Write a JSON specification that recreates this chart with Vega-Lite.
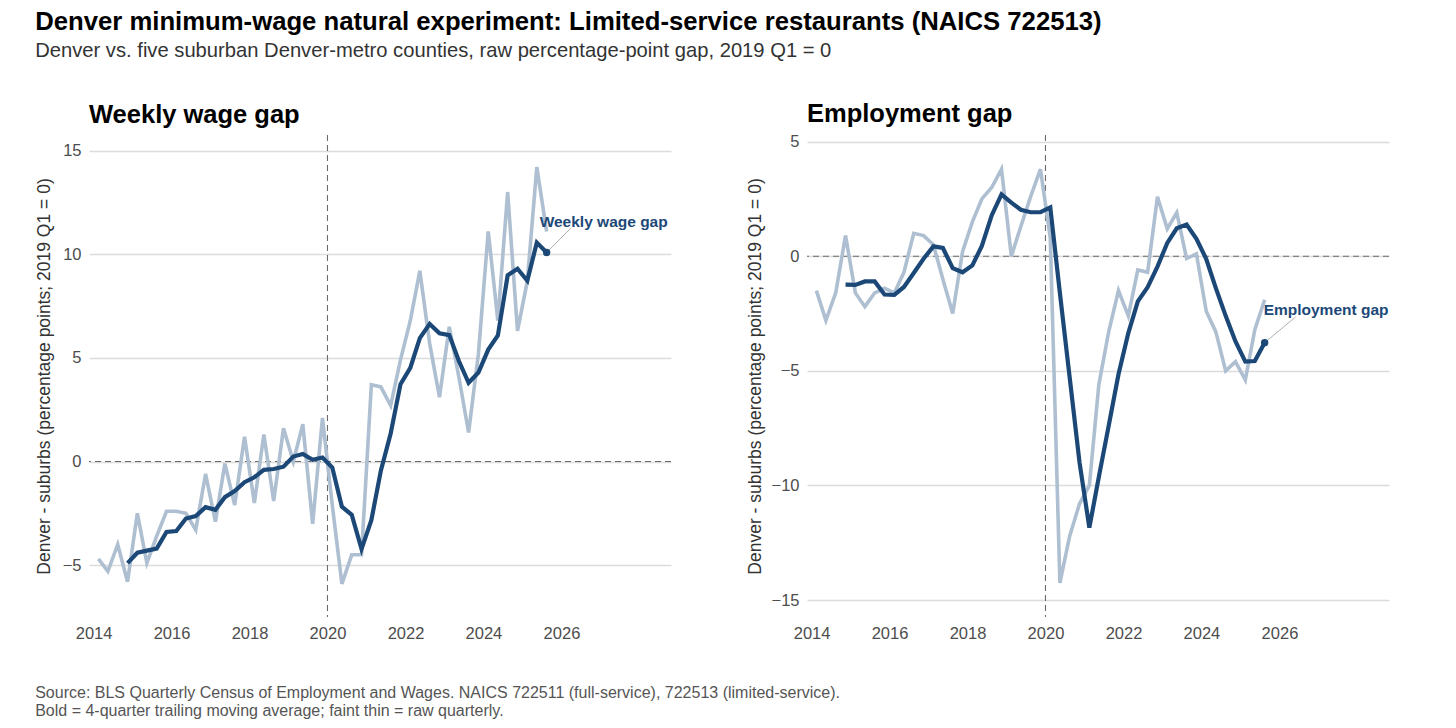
{
  "$schema": "https://vega.github.io/schema/vega-lite/v6.json",
  "padding": {"left": 35, "top": 9, "right": 10, "bottom": 10},
  "title": {
    "text": "Denver minimum-wage natural experiment: Limited-service restaurants (NAICS 722513)",
    "subtitle": "Denver vs. five suburban Denver-metro counties, raw percentage-point gap, 2019 Q1 = 0",
    "anchor": "start",
    "fontSize": 25.7,
    "fontWeight": "bold",
    "color": "#000000",
    "subtitleFontSize": 20.2,
    "subtitleColor": "#333333",
    "subtitlePadding": 5,
    "offset": 40
  },
  "datasets": {
    "wage": [
      {"date": "2014-02-15", "raw": -4.7, "ma": null},
      {"date": "2014-05-15", "raw": -5.3, "ma": null},
      {"date": "2014-08-15", "raw": -4.0, "ma": null},
      {"date": "2014-11-15", "raw": -5.8, "ma": -4.9},
      {"date": "2015-02-15", "raw": -2.5, "ma": -4.4},
      {"date": "2015-05-15", "raw": -4.9, "ma": -4.3},
      {"date": "2015-08-15", "raw": -3.6, "ma": -4.2},
      {"date": "2015-11-15", "raw": -2.4, "ma": -3.4},
      {"date": "2016-02-15", "raw": -2.4, "ma": -3.35},
      {"date": "2016-05-15", "raw": -2.5, "ma": -2.75},
      {"date": "2016-08-15", "raw": -3.3, "ma": -2.63},
      {"date": "2016-11-15", "raw": -0.6, "ma": -2.2},
      {"date": "2017-02-15", "raw": -2.9, "ma": -2.33},
      {"date": "2017-05-15", "raw": -0.1, "ma": -1.72},
      {"date": "2017-08-15", "raw": -2.1, "ma": -1.42},
      {"date": "2017-11-15", "raw": 1.2, "ma": -1.0},
      {"date": "2018-02-15", "raw": -2.0, "ma": -0.76},
      {"date": "2018-05-15", "raw": 1.3, "ma": -0.4},
      {"date": "2018-08-15", "raw": -1.9, "ma": -0.36},
      {"date": "2018-11-15", "raw": 1.6, "ma": -0.25},
      {"date": "2019-02-15", "raw": 0.0, "ma": 0.24},
      {"date": "2019-05-15", "raw": 1.8, "ma": 0.36},
      {"date": "2019-08-15", "raw": -3.0, "ma": 0.08},
      {"date": "2019-11-15", "raw": 2.1, "ma": 0.19},
      {"date": "2020-02-15", "raw": -2.1, "ma": -0.29},
      {"date": "2020-05-15", "raw": -5.9, "ma": -2.18},
      {"date": "2020-08-15", "raw": -4.5, "ma": -2.57},
      {"date": "2020-11-15", "raw": -4.5, "ma": -4.22},
      {"date": "2021-02-15", "raw": 3.7, "ma": -2.83},
      {"date": "2021-05-15", "raw": 3.6, "ma": -0.44},
      {"date": "2021-08-15", "raw": 2.7, "ma": 1.35},
      {"date": "2021-11-15", "raw": 4.9, "ma": 3.73},
      {"date": "2022-02-15", "raw": 6.8, "ma": 4.52},
      {"date": "2022-05-15", "raw": 9.2, "ma": 5.95},
      {"date": "2022-08-15", "raw": 5.7, "ma": 6.63},
      {"date": "2022-11-15", "raw": 3.1, "ma": 6.18},
      {"date": "2023-02-15", "raw": 6.5, "ma": 6.1},
      {"date": "2023-05-15", "raw": 4.1, "ma": 4.86},
      {"date": "2023-08-15", "raw": 1.4, "ma": 3.8},
      {"date": "2023-11-15", "raw": 5.2, "ma": 4.29},
      {"date": "2024-02-15", "raw": 11.1, "ma": 5.4},
      {"date": "2024-05-15", "raw": 6.8, "ma": 6.08},
      {"date": "2024-08-15", "raw": 13.0, "ma": 8.98},
      {"date": "2024-11-15", "raw": 6.3, "ma": 9.3},
      {"date": "2025-02-15", "raw": 8.7, "ma": 8.72},
      {"date": "2025-05-15", "raw": 14.2, "ma": 10.56},
      {"date": "2025-08-15", "raw": 11.1, "ma": 10.08}
    ],
    "emp": [
      {"date": "2014-02-15", "raw": -1.5, "ma": null},
      {"date": "2014-05-15", "raw": -2.8, "ma": null},
      {"date": "2014-08-15", "raw": -1.6, "ma": null},
      {"date": "2014-11-15", "raw": 0.9, "ma": -1.24},
      {"date": "2015-02-15", "raw": -1.6, "ma": -1.25},
      {"date": "2015-05-15", "raw": -2.2, "ma": -1.1},
      {"date": "2015-08-15", "raw": -1.6, "ma": -1.1},
      {"date": "2015-11-15", "raw": -1.4, "ma": -1.67},
      {"date": "2016-02-15", "raw": -1.6, "ma": -1.69},
      {"date": "2016-05-15", "raw": -0.7, "ma": -1.34},
      {"date": "2016-08-15", "raw": 1.0, "ma": -0.73},
      {"date": "2016-11-15", "raw": 0.9, "ma": -0.11},
      {"date": "2017-02-15", "raw": 0.5, "ma": 0.43},
      {"date": "2017-05-15", "raw": -1.0, "ma": 0.36},
      {"date": "2017-08-15", "raw": -2.5, "ma": -0.52},
      {"date": "2017-11-15", "raw": 0.2, "ma": -0.7},
      {"date": "2018-02-15", "raw": 1.5, "ma": -0.4},
      {"date": "2018-05-15", "raw": 2.5, "ma": 0.45},
      {"date": "2018-08-15", "raw": 3.0, "ma": 1.78},
      {"date": "2018-11-15", "raw": 3.8, "ma": 2.7},
      {"date": "2019-02-15", "raw": 0.0, "ma": 2.34},
      {"date": "2019-05-15", "raw": 1.3, "ma": 2.03},
      {"date": "2019-08-15", "raw": 2.6, "ma": 1.92},
      {"date": "2019-11-15", "raw": 3.8, "ma": 1.92},
      {"date": "2020-02-15", "raw": 0.8, "ma": 2.13},
      {"date": "2020-05-15", "raw": -14.25, "ma": -1.6},
      {"date": "2020-08-15", "raw": -12.2, "ma": -5.3},
      {"date": "2020-11-15", "raw": -10.8, "ma": -9.0},
      {"date": "2021-02-15", "raw": -10.0, "ma": -11.84},
      {"date": "2021-05-15", "raw": -5.6, "ma": -9.63},
      {"date": "2021-08-15", "raw": -3.3, "ma": -7.4},
      {"date": "2021-11-15", "raw": -1.5, "ma": -5.15},
      {"date": "2022-02-15", "raw": -2.6, "ma": -3.35},
      {"date": "2022-05-15", "raw": -0.6, "ma": -1.97},
      {"date": "2022-08-15", "raw": -0.7, "ma": -1.35},
      {"date": "2022-11-15", "raw": 2.6, "ma": -0.45},
      {"date": "2023-02-15", "raw": 1.2, "ma": 0.58},
      {"date": "2023-05-15", "raw": 1.9, "ma": 1.22},
      {"date": "2023-08-15", "raw": -0.1, "ma": 1.38},
      {"date": "2023-11-15", "raw": 0.1, "ma": 0.76},
      {"date": "2024-02-15", "raw": -2.4, "ma": -0.12},
      {"date": "2024-05-15", "raw": -3.3, "ma": -1.39},
      {"date": "2024-08-15", "raw": -5.0, "ma": -2.6},
      {"date": "2024-11-15", "raw": -4.6, "ma": -3.72},
      {"date": "2025-02-15", "raw": -5.4, "ma": -4.6},
      {"date": "2025-05-15", "raw": -3.2, "ma": -4.57},
      {"date": "2025-08-15", "raw": -1.9, "ma": -3.77}
    ]
  },
  "vconcat": [
    {
      "title": {
        "text": [
          "Source: BLS Quarterly Census of Employment and Wages. NAICS 722511 (full-service), 722513 (limited-service).",
          "Bold = 4-quarter trailing moving average; faint thin = raw quarterly."
        ],
        "orient": "bottom",
        "anchor": "start",
        "fontSize": 16,
        "fontWeight": "normal",
        "color": "#555555",
        "lineHeight": 18,
        "offset": 43
      },
      "hconcat": [
        {
          "width": 582,
          "height": 482,
          "title": {"text": "Weekly wage gap", "anchor": "start", "frame": "group", "fontSize": 25.5, "fontWeight": "bold", "color": "#000000", "offset": 6},
          "data": {"name": "wage"},
          "layer": [
            {
              "data": {"values": [{}]},
              "mark": {"type": "rule", "color": "#6b6b6b", "strokeDash": [6, 4], "strokeWidth": 1.1},
              "encoding": {"y": {"datum": 0, "type": "quantitative"}}
            },
            {
              "data": {"values": [{}]},
              "mark": {"type": "rule", "color": "#6b6b6b", "strokeDash": [6, 4], "strokeWidth": 1.1},
              "encoding": {"x": {"datum": {"year": 2020, "month": 1, "date": 1}, "type": "temporal"}}
            },
            {
              "mark": {"type": "line", "color": "#aebfd1", "strokeWidth": 3.6},
              "encoding": {
                "x": {
                  "field": "date", "type": "temporal",
                  "scale": {"domain": [{"year": 2013, "month": 11, "date": 19}, {"year": 2028, "month": 10, "date": 23}]},
                  "axis": {"title": null, "format": "%Y", "values": [{"year": 2014}, {"year": 2016}, {"year": 2018}, {"year": 2020}, {"year": 2022}, {"year": 2024}, {"year": 2026}], "grid": false, "domain": false, "ticks": false, "labelPadding": 8}
                },
                "y": {
                  "field": "raw", "type": "quantitative",
                  "scale": {"domain": [-7.5, 15.75], "nice": false, "zero": false},
                  "axis": {"title": "Denver - suburbs (percentage points; 2019 Q1 = 0)", "values": [-5, 0, 5, 10, 15], "grid": true, "domain": false, "ticks": false, "labelPadding": 8, "titlePadding": 9}
                }
              }
            },
            {
              "mark": {"type": "line", "color": "#1c4878", "strokeWidth": 4.2},
              "encoding": {
                "x": {"field": "date", "type": "temporal", "title": null},
                "y": {"field": "ma", "type": "quantitative", "title": "Denver - suburbs (percentage points; 2019 Q1 = 0)"}
              }
            },
            {
              "transform": [
                {"window": [{"op": "row_number", "as": "k"}], "sort": [{"field": "date", "order": "descending"}]},
                {"filter": "datum.k == 1"}
              ],
              "encoding": {
                "x": {"field": "date", "type": "temporal", "title": null},
                "y": {"field": "ma", "type": "quantitative", "title": "Denver - suburbs (percentage points; 2019 Q1 = 0)"}
              },
              "layer": [
                {
                  "mark": {"type": "rule", "color": "#9a9a9a", "strokeWidth": 0.8},
                  "encoding": {"x2": {"datum": {"year": 2026, "month": 3, "date": 28}}, "y2": {"datum": 11.25}}
                },
                {"mark": {"type": "circle", "color": "#1c4878", "size": 55, "opacity": 1}},
                {
                  "mark": {"type": "text", "align": "left", "baseline": "middle", "dx": -7, "dy": -31, "fontSize": 15.5, "fontWeight": "bold", "color": "#1c4878"},
                  "encoding": {"text": {"value": "Weekly wage gap"}}
                }
              ]
            }
          ]
        },
        {
          "width": 582,
          "height": 482,
          "title": {"text": "Employment gap", "anchor": "start", "frame": "group", "fontSize": 25.5, "fontWeight": "bold", "color": "#000000", "offset": 6},
          "data": {"name": "emp"},
          "layer": [
            {
              "data": {"values": [{}]},
              "mark": {"type": "rule", "color": "#6b6b6b", "strokeDash": [6, 4], "strokeWidth": 1.1},
              "encoding": {"y": {"datum": 0, "type": "quantitative"}}
            },
            {
              "data": {"values": [{}]},
              "mark": {"type": "rule", "color": "#6b6b6b", "strokeDash": [6, 4], "strokeWidth": 1.1},
              "encoding": {"x": {"datum": {"year": 2020, "month": 1, "date": 1}, "type": "temporal"}}
            },
            {
              "mark": {"type": "line", "color": "#aebfd1", "strokeWidth": 3.6},
              "encoding": {
                "x": {
                  "field": "date", "type": "temporal",
                  "scale": {"domain": [{"year": 2013, "month": 11, "date": 19}, {"year": 2028, "month": 10, "date": 23}]},
                  "axis": {"title": null, "format": "%Y", "values": [{"year": 2014}, {"year": 2016}, {"year": 2018}, {"year": 2020}, {"year": 2022}, {"year": 2024}, {"year": 2026}], "grid": false, "domain": false, "ticks": false, "labelPadding": 8}
                },
                "y": {
                  "field": "raw", "type": "quantitative",
                  "scale": {"domain": [-15.74, 5.29], "nice": false, "zero": false},
                  "axis": {"title": "Denver - suburbs (percentage points; 2019 Q1 = 0)", "values": [-15, -10, -5, 0, 5], "grid": true, "domain": false, "ticks": false, "labelPadding": 8, "titlePadding": 7}
                }
              }
            },
            {
              "mark": {"type": "line", "color": "#1c4878", "strokeWidth": 4.2},
              "encoding": {
                "x": {"field": "date", "type": "temporal", "title": null},
                "y": {"field": "ma", "type": "quantitative", "title": "Denver - suburbs (percentage points; 2019 Q1 = 0)"}
              }
            },
            {
              "transform": [
                {"window": [{"op": "row_number", "as": "k"}], "sort": [{"field": "date", "order": "descending"}]},
                {"filter": "datum.k == 1"}
              ],
              "encoding": {
                "x": {"field": "date", "type": "temporal", "title": null},
                "y": {"field": "ma", "type": "quantitative", "title": "Denver - suburbs (percentage points; 2019 Q1 = 0)"}
              },
              "layer": [
                {
                  "mark": {"type": "rule", "color": "#9a9a9a", "strokeWidth": 0.8},
                  "encoding": {"x2": {"datum": {"year": 2026, "month": 6, "date": 1}}, "y2": {"datum": -2.65}}
                },
                {"mark": {"type": "circle", "color": "#1c4878", "size": 55, "opacity": 1}},
                {
                  "mark": {"type": "text", "align": "left", "baseline": "middle", "dx": -1, "dy": -33, "fontSize": 15.5, "fontWeight": "bold", "color": "#1c4878"},
                  "encoding": {"text": {"value": "Employment gap"}}
                }
              ]
            }
          ]
        }
      ],
      "spacing": 74
    }
  ],
  "config": {
    "font": "Liberation Sans",
    "background": "#ffffff",
    "view": {"stroke": null},
    "axis": {
      "labelFontSize": 16.5,
      "labelColor": "#4d4d4d",
      "titleFontSize": 17.5,
      "titleFontWeight": "normal",
      "titleColor": "#333333",
      "gridColor": "#dcdcdc",
      "gridWidth": 1.3
    }
  }
}
